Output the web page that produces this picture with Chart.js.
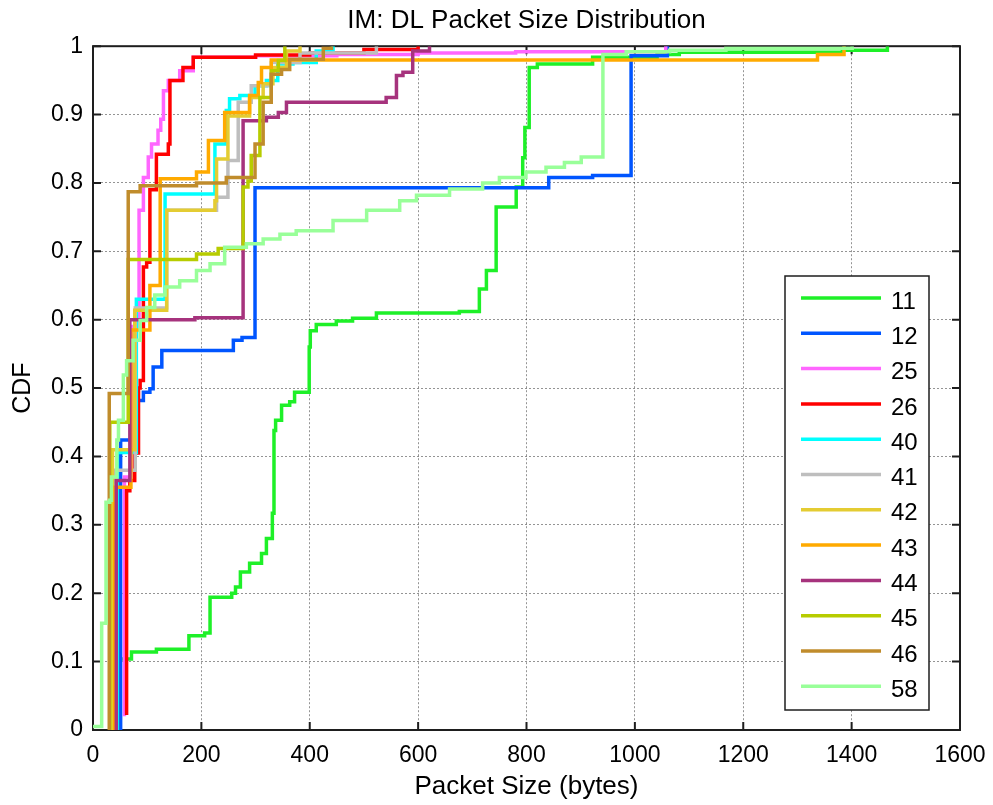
<!DOCTYPE html>
<html>
<head>
<meta charset="utf-8">
<title>IM: DL Packet Size Distribution</title>
<script src="https://cdn.jsdelivr.net/npm/chart.js@4.4.1/dist/chart.umd.min.js"></script>
<style>
  html, body { margin: 0; padding: 0; background: #fff; }
</style>
</head>
<body>
<canvas id="cdfChart" width="993" height="805"></canvas>
<script>
// packet size (bytes) where each CDF steps, and the CDF value right after the step
const bytes11 = [40, 40, 71, 117, 177, 206, 216, 256, 263, 272, 289, 311, 320, 331, 334, 337, 348, 363, 372, 399, 401, 412, 449, 479, 523, 676, 713, 726, 744, 781, 793, 797, 805, 820, 922, 1041, 1082, 1383, 1466];
const cdf11 = [0, 0.104, 0.114, 0.118, 0.138, 0.142, 0.194, 0.200, 0.209, 0.231, 0.244, 0.258, 0.280, 0.317, 0.438, 0.453, 0.475, 0.480, 0.494, 0.560, 0.584, 0.593, 0.598, 0.602, 0.610, 0.612, 0.645, 0.672, 0.765, 0.794, 0.837, 0.881, 0.969, 0.974, 0.984, 0.988, 0.991, 0.994, 1];

const bytes12 = [51, 51, 70, 82, 93, 105, 111, 127, 259, 275, 299, 841, 922, 993, 1060];
const cdf12 = [0, 0.424, 0.43, 0.482, 0.494, 0.499, 0.531, 0.555, 0.57, 0.574, 0.793, 0.808, 0.811, 0.986, 1];

const bytes25 = [58, 58, 71, 85, 93, 102, 108, 120, 125, 130, 139, 160, 185, 300, 450, 600, 780, 1057];
const cdf25 = [0.02, 0.37, 0.59, 0.76, 0.808, 0.838, 0.857, 0.877, 0.893, 0.935, 0.95, 0.964, 0.984, 0.986, 0.988, 0.99, 0.992, 1];

const bytes26 = [62, 62, 68, 77, 84, 87, 93, 99, 105, 117, 139, 142, 166, 185, 300, 400, 500, 600];
const cdf26 = [0.022, 0.35, 0.365, 0.405, 0.50, 0.511, 0.677, 0.684, 0.79, 0.842, 0.857, 0.95, 0.969, 0.984, 0.987, 0.99, 0.995, 1];

const bytes40 = [45, 45, 80, 133, 225, 246, 252, 271, 299, 320, 341, 369, 412, 443];
const cdf40 = [0, 0.406, 0.63, 0.784, 0.857, 0.906, 0.923, 0.928, 0.942, 0.95, 0.974, 0.976, 0.993, 1];

const bytes41 = [42, 42, 78, 136, 228, 249, 268, 292, 329, 382, 523];
const cdf41 = [0, 0.38, 0.617, 0.76, 0.779, 0.833, 0.918, 0.942, 0.976, 0.99, 1];

const bytes42 = [36, 36, 77, 136, 225, 228, 249, 289, 314, 332, 357, 382];
const cdf42 = [0, 0.41, 0.614, 0.76, 0.774, 0.835, 0.898, 0.925, 0.945, 0.969, 0.993, 1];

const bytes43 = [40, 40, 70, 105, 124, 191, 213, 243, 289, 305, 311, 329, 1337, 1386];
const cdf43 = [0, 0.355, 0.585, 0.65, 0.806, 0.816, 0.862, 0.903, 0.928, 0.947, 0.969, 0.98, 0.988, 1];

const bytes44 = [43, 43, 68, 188, 277, 320, 342, 357, 541, 560, 572, 590, 621];
const cdf44 = [0, 0.365, 0.6, 0.603, 0.891, 0.896, 0.903, 0.918, 0.925, 0.957, 0.962, 0.993, 1];

const bytes45 = [31, 31, 65, 191, 231, 277, 286, 292, 308, 329, 342, 354];
const cdf45 = [0, 0.45, 0.688, 0.696, 0.704, 0.794, 0.803, 0.84, 0.925, 0.964, 0.979, 1];

const bytes46 = [30, 30, 65, 87, 191, 246, 299, 314, 329, 348, 363, 425, 440];
const cdf46 = [0, 0.492, 0.787, 0.796, 0.80, 0.808, 0.857, 0.918, 0.959, 0.966, 0.981, 0.997, 1];

const bytes58 = [0, 16, 24, 31, 34, 44, 47, 56, 62, 74, 87, 99, 114, 133, 160, 191, 216, 243, 283, 314, 345, 375, 443, 505, 566, 597, 658, 719, 750, 799, 836, 870, 901, 941, 984, 1064, 1168, 1401];
const cdf58 = [0.005, 0.156, 0.333, 0.336, 0.37, 0.424, 0.453, 0.519, 0.54, 0.57, 0.599, 0.618, 0.636, 0.648, 0.657, 0.672, 0.682, 0.706, 0.711, 0.718, 0.725, 0.73, 0.745, 0.76, 0.774, 0.782, 0.791, 0.80, 0.808, 0.816, 0.823, 0.83, 0.838, 0.988, 0.992, 0.994, 0.997, 1];

const seriesNames = ['11', '12', '25', '26', '40', '41', '42', '43', '44', '45', '46', '58'];
const seriesBytes = [bytes11, bytes12, bytes25, bytes26, bytes40, bytes41, bytes42, bytes43, bytes44, bytes45, bytes46, bytes58];
const seriesCdf = [cdf11, cdf12, cdf25, cdf26, cdf40, cdf41, cdf42, cdf43, cdf44, cdf45, cdf46, cdf58];
const seriesColors = [
    'rgb(30, 240, 40)',
    'rgb(0, 85, 255)',
    'rgb(255, 102, 255)',
    'rgb(255, 0, 0)',
    'rgb(0, 255, 255)',
    'rgb(190, 190, 190)',
    'rgb(228, 204, 50)',
    'rgb(255, 170, 0)',
    'rgb(166, 51, 125)',
    'rgb(183, 204, 0)',
    'rgb(192, 140, 44)',
    'rgb(153, 255, 153)'
];

const FONT = 'Liberation Sans, Arial, sans-serif';

// frame around the plot with small inward tick marks on all four sides
const frame = {
    id: 'frame',
    beforeDatasetsDraw(chart) {
        const {ctx, chartArea: a, scales: {x, y}} = chart;
        ctx.save();
        ctx.strokeStyle = '#1e1e1e';
        ctx.lineWidth = 2;
        ctx.beginPath();
        x.ticks.forEach(t => {
            const px = x.getPixelForValue(t.value);
            ctx.moveTo(px, a.bottom); ctx.lineTo(px, a.bottom - 8);
            ctx.moveTo(px, a.top); ctx.lineTo(px, a.top + 8);
        });
        y.ticks.forEach(t => {
            const py = y.getPixelForValue(t.value);
            ctx.moveTo(a.left, py); ctx.lineTo(a.left + 8, py);
            ctx.moveTo(a.right, py); ctx.lineTo(a.right - 8, py);
        });
        ctx.stroke();
        ctx.strokeRect(a.left, a.top, a.right - a.left, a.bottom - a.top);
        ctx.restore();
    }
};

// boxed legend sitting inside the plot, lower right
const boxLegend = {
    id: 'boxLegend',
    afterDraw(chart) {
        const {ctx} = chart;
        const left = 785, top = 276, width = 144, height = 434;
        const rowGap = 35.3;
        ctx.save();
        ctx.fillStyle = '#fff';
        ctx.fillRect(left, top, width, height);
        ctx.strokeStyle = '#1e1e1e';
        ctx.lineWidth = 1.5;
        ctx.strokeRect(left, top, width, height);
        ctx.font = '24px ' + FONT;
        ctx.textBaseline = 'middle';
        ctx.textAlign = 'left';
        chart.data.datasets.forEach((ds, i) => {
            const yy = top + 22 + i * rowGap;
            ctx.strokeStyle = ds.borderColor;
            ctx.lineWidth = 3.5;
            ctx.beginPath();
            ctx.moveTo(left + 16, yy);
            ctx.lineTo(left + 96, yy);
            ctx.stroke();
            ctx.fillStyle = '#000';
            ctx.fillText(ds.label, left + 106, yy + 4);
        });
        ctx.restore();
    }
};

const cdfChart = document.getElementById('cdfChart');
new Chart(cdfChart, {
    type: 'line',
    data: {
        datasets: seriesNames.map((name, i) => ({
            label: name,
            data: seriesBytes[i].map((b, k) => ({x: b, y: seriesCdf[i][k]})),
            borderColor: seriesColors[i],
            backgroundColor: seriesColors[i],
            borderWidth: 3.5,
            pointRadius: 0,
            stepped: true,
            fill: false,
            order: seriesNames.length - i
        }))
    },
    options: {
        responsive: false,
        animation: false,
        layout: {padding: {left: 0, right: 33, top: 0, bottom: 0}},
        plugins: {
            legend: {display: false},
            tooltip: {enabled: false},
            title: {
                display: true,
                fullSize: false,
                text: 'IM: DL Packet Size Distribution',
                color: '#000',
                font: {family: FONT, size: 26, weight: 'normal'},
                padding: {top: 5, bottom: 10}
            }
        },
        scales: {
            x: {
                type: 'linear',
                min: 0,
                max: 1600,
                afterFit: s => { s.height = 75; s.paddingLeft = 0; s.paddingRight = 0; },
                ticks: {stepSize: 200, color: '#000', padding: 12, font: {family: FONT, size: 23}, callback: v => String(v)},
                grid: {color: 'rgba(0,0,0,0.42)', lineWidth: 1, drawTicks: false},
                border: {display: false, dash: [2, 2]},
                title: {display: true, text: 'Packet Size (bytes)', color: '#000', font: {family: FONT, size: 26}, padding: {top: 0, bottom: 3}}
            },
            y: {
                min: 0,
                max: 1,
                afterFit: s => { s.width = 93; },
                ticks: {
                    stepSize: 0.1,
                    color: '#000',
                    padding: 10,
                    font: {family: FONT, size: 23},
                    callback: v => String(Number(v.toFixed(1)))
                },
                grid: {color: 'rgba(0,0,0,0.42)', lineWidth: 1, drawTicks: false},
                border: {display: false, dash: [2, 2]},
                title: {display: true, text: 'CDF', color: '#000', font: {family: FONT, size: 25}, padding: {top: 8, bottom: 0}}
            }
        }
    },
    plugins: [frame, boxLegend]
});
</script>
</body>
</html>
